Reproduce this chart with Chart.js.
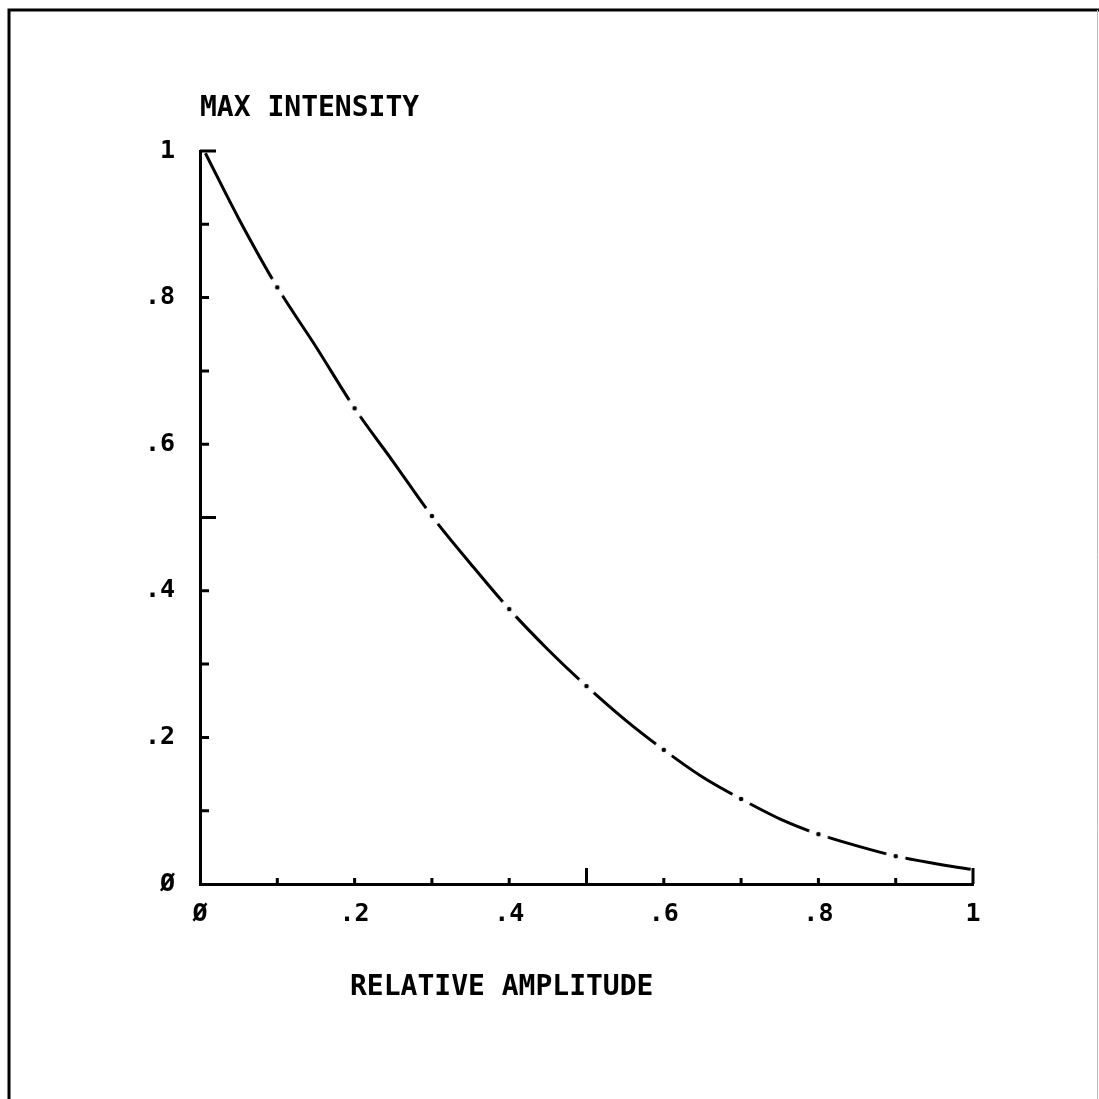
<!DOCTYPE html>
<html>
<head>
<meta charset="utf-8">
<script src="https://cdn.jsdelivr.net/npm/chart.js@4.4.1/dist/chart.umd.min.js"></script>
<style>
  html, body { margin: 0; padding: 0; background: #fff; }
  #wrap { width: 1099px; height: 1099px; position: relative; }
</style>
</head>
<body>
<div id="wrap"><canvas id="plot"></canvas></div>
<script>
// curve: max intensity vs relative amplitude
const amplitude = [0.007, 0.05, 0.1, 0.15, 0.2, 0.25, 0.3, 0.35, 0.4, 0.45, 0.5,
                   0.55, 0.6, 0.65, 0.7, 0.75, 0.8, 0.85, 0.9, 0.95, 0.997];
const intensity = [0.997, 0.908, 0.814, 0.733, 0.649, 0.576, 0.502, 0.437, 0.375, 0.320, 0.270,
                   0.224, 0.183, 0.146, 0.116, 0.089, 0.068, 0.052, 0.038, 0.028, 0.020];
// the plotter broke the line with a dot at every tenth of amplitude
const dotAmplitudes = [0.1, 0.2, 0.3, 0.4, 0.5, 0.6, 0.7, 0.8, 0.9];

const xTickLabels = ['Ø', '.2', '.4', '.6', '.8', '1'];
const yTickLabels = ['Ø', '.2', '.4', '.6', '.8', '1'];
const yTitle = 'MAX INTENSITY';
const xTitle = 'RELATIVE AMPLITUDE';

const FONT = "'DejaVu Sans Mono', 'Liberation Mono', monospace";

// point marker: white gap in the line with a black dot in the middle
const breakMark = document.createElement('canvas');
breakMark.width = 22;
breakMark.height = 22;
(function () {
    const c = breakMark.getContext('2d');
    c.fillStyle = '#fff';
    c.beginPath(); c.arc(11, 11, 10, 0, Math.PI * 2); c.fill();
    c.fillStyle = '#000';
    c.beginPath(); c.arc(11, 11, 2.3, 0, Math.PI * 2); c.fill();
})();

// inward tick marks, axis titles and the page frame
const plotterDecor = {
    id: 'plotterDecor',
    beforeDraw(chart) {
        const ctx = chart.ctx;
        ctx.save();
        ctx.fillStyle = '#fff';
        ctx.fillRect(0, 0, chart.width, chart.height);
        ctx.strokeStyle = '#000';
        ctx.lineWidth = 3;
        ctx.beginPath();
        ctx.moveTo(9, chart.height + 2);
        ctx.lineTo(9, 10);
        ctx.lineTo(chart.width + 2, 10);
        ctx.stroke();
        ctx.strokeStyle = '#bbb';
        ctx.lineWidth = 1;
        ctx.beginPath();
        ctx.moveTo(chart.width - 1.5, 10);
        ctx.lineTo(chart.width - 1.5, chart.height);
        ctx.stroke();
        ctx.restore();
    },
    afterDraw(chart) {
        const ctx = chart.ctx;
        const xs = chart.scales.x, ys = chart.scales.y;
        const area = chart.chartArea;
        ctx.save();
        ctx.strokeStyle = '#000';
        ctx.lineWidth = 3;
        ctx.beginPath();
        for (let i = 1; i <= 10; i++) {
            const v = i / 10;
            const py = ys.getPixelForValue(v);
            const ly = (i === 5 || i === 10) ? 16 : 9;
            ctx.moveTo(area.left, py);
            ctx.lineTo(area.left + ly, py);
            const px = xs.getPixelForValue(v);
            const lx = (i === 5 || i === 10) ? 16 : 6;
            ctx.moveTo(px, area.bottom);
            ctx.lineTo(px, area.bottom - lx);
        }
        ctx.stroke();

        ctx.fillStyle = '#000';
        ctx.font = 'bold 28px ' + FONT;
        ctx.textAlign = 'left';
        ctx.textBaseline = 'alphabetic';
        ctx.fillText(yTitle, area.left, area.top - 35);
        ctx.fillText(xTitle, area.left + 150, area.bottom + 111);
        ctx.restore();
    }
};

new Chart(document.getElementById('plot'), {
    type: 'line',
    data: {
        datasets: [{
            data: amplitude.map((a, i) => ({ x: a, y: intensity[i] })),
            borderColor: '#000',
            borderWidth: 3,
            fill: false,
            cubicInterpolationMode: 'monotone',
            pointStyle: breakMark,
            pointRadius: (c) => dotAmplitudes.includes(amplitude[c.dataIndex]) ? 3 : 0,
            pointHoverRadius: 0
        }]
    },
    options: {
        responsive: true,
        maintainAspectRatio: false,
        animation: false,
        events: [],
        layout: { padding: { left: 0, top: 151, right: 126, bottom: 0 } },
        plugins: {
            legend: { display: false },
            tooltip: { enabled: false },
            title: { display: false }
        },
        scales: {
            x: {
                type: 'linear',
                min: 0, max: 1,
                afterFit(scale) { scale.height = 215; },
                grid: { display: false, drawTicks: false },
                border: { display: true, color: '#000', width: 3 },
                ticks: {
                    stepSize: 0.2,
                    padding: 15,
                    color: '#000',
                    font: { family: FONT, size: 25, weight: 'bold' },
                    callback: (v) => xTickLabels[Math.round(v * 5)]
                }
            },
            y: {
                type: 'linear',
                min: 0, max: 1,
                afterFit(scale) { scale.width = 200; },
                grid: { display: false, drawTicks: false },
                border: { display: true, color: '#000', width: 3 },
                ticks: {
                    stepSize: 0.2,
                    padding: 25,
                    color: '#000',
                    font: { family: FONT, size: 25, weight: 'bold' },
                    callback: (v) => yTickLabels[Math.round(v * 5)]
                }
            }
        }
    },
    plugins: [plotterDecor]
});
</script>
</body>
</html>
